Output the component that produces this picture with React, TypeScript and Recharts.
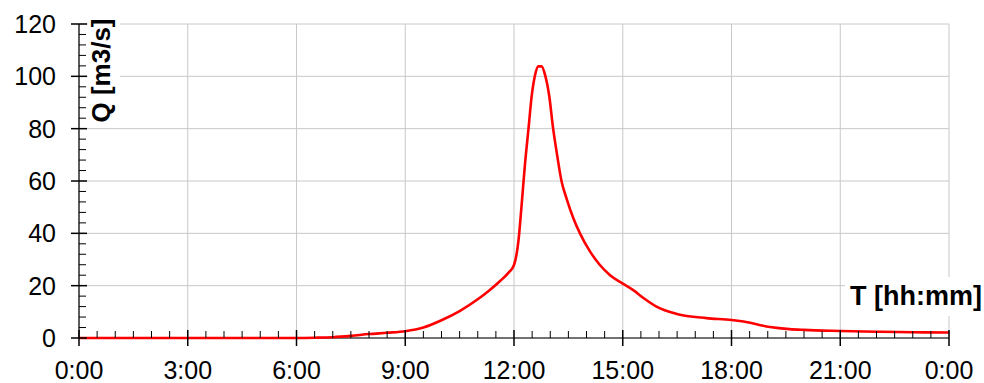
import React from 'react';
import { LineChart, Line, XAxis, YAxis, CartesianGrid, Label } from 'recharts';

// time in hours, flow Q in m3/s
const times = [0, 1, 2, 3, 4, 5, 6, 6.5, 7, 7.5, 8, 8.5, 9, 9.5, 10, 10.5, 11, 11.3, 11.61, 11.85, 12.0, 12.12, 12.21, 12.3, 12.4, 12.49, 12.58, 12.67, 12.76, 12.86, 12.97, 13.08, 13.19, 13.31, 13.45, 13.64, 13.82, 14.1, 14.37, 14.65, 15.0, 15.29, 15.6, 15.93, 16.49, 17.31, 18.0, 18.33, 19.06, 19.6, 20.0, 21.0, 22.0, 23.0, 24.0];
const flows = [0, 0, 0, 0, 0, 0, 0, 0.1, 0.3, 0.8, 1.5, 2.0, 2.6, 4.0, 6.8, 10.3, 14.8, 18.0, 21.7, 25.0, 27.9, 36.8, 50.8, 66, 80, 92.7, 100.4, 103.8, 103.8, 100.4, 92.7, 80, 69.9, 60, 53.3, 45.7, 40, 33, 27.9, 24, 20.8, 18.3, 15, 12, 9.2, 7.6, 6.9, 6.3, 4.2, 3.4, 3.1, 2.7, 2.4, 2.2, 2.1];

const xMajorTicks = [0, 3, 6, 9, 12, 15, 18, 21, 24];
const xTickLabels = ['0:00', '3:00', '6:00', '9:00', '12:00', '15:00', '18:00', '21:00', '0:00'];
const xAllTicks = Array.from({ length: 49 }, (_, i) => i * 0.5);
const yMajorTicks = [0, 20, 40, 60, 80, 100, 120];
const yAllTicks = Array.from({ length: 31 }, (_, i) => i * 4);

const data = times.map((t, i) => ({ t, q: flows[i] }));

const FONT = '"Liberation Sans", Arial, Helvetica, sans-serif';

function XTick(props: any) {
  const { x, y, payload } = props;
  const v = payload.value;
  const idx = xMajorTicks.indexOf(v);
  if (idx >= 0) {
    return (
      <g>
        <line x1={x} x2={x} y1={y - 8} y2={y + 8} stroke="#000" strokeWidth={1.5} />
        <text x={x} y={y + 41} textAnchor="middle" fontSize={25} fontFamily={FONT} fill="#000">
          {xTickLabels[idx]}
        </text>
      </g>
    );
  }
  return <line x1={x} x2={x} y1={y - 7} y2={y} stroke="#000" strokeWidth={1} />;
}

function YTick(props: any) {
  const { x, y, payload } = props;
  const v = payload.value;
  if (yMajorTicks.indexOf(v) >= 0) {
    return (
      <g>
        <line x1={x - 8} x2={x + 8} y1={y} y2={y} stroke="#000" strokeWidth={1.5} />
        <text x={x - 23} y={y + 9} textAnchor="end" fontSize={25} fontFamily={FONT} fill="#000">
          {v}
        </text>
      </g>
    );
  }
  return <line x1={x} x2={x + 7} y1={y} y2={y} stroke="#000" strokeWidth={1} />;
}

const renderYLabel = () => (
  <g>
    <rect x={88} y={14} width={32} height={114} fill="#fff" />
    <text
      x={109.5}
      y={70.5}
      transform="rotate(-90, 109.5, 70.5)"
      textAnchor="middle"
      fontSize={26}
      fontWeight="bold"
      fontFamily={FONT}
      fill="#000"
    >
      Q [m3/s]
    </text>
  </g>
);

const renderXLabel = () => (
  <g>
    <rect x={845} y={277} width={139} height={39} fill="#fff" />
    <text x={982} y={304.5} textAnchor="end" fontSize={27} fontWeight="bold" fontFamily={FONT} fill="#000">
      T [hh:mm]
    </text>
  </g>
);

export default function App() {
  return (
    <div style={{ width: 984, height: 383 }}>
      <style>{'html, body { margin: 0; padding: 0; }'}</style>
      <LineChart
        width={984}
        height={383}
        data={data}
        margin={{ top: 24, right: 35, bottom: 0, left: 0 }}
      >
        <CartesianGrid
          stroke="#c8c8c8"
          strokeWidth={1}
          verticalValues={xMajorTicks}
          horizontalValues={yMajorTicks}
        />
        <XAxis
          dataKey="t"
          type="number"
          domain={[0, 24]}
          ticks={xAllTicks}
          interval={0}
          tickLine={false}
          tickSize={0}
          tickMargin={0}
          height={45}
          axisLine={{ stroke: '#000', strokeWidth: 1.2 }}
          tick={<XTick />}
        >
          <Label content={renderXLabel} />
        </XAxis>
        <YAxis
          type="number"
          domain={[0, 120]}
          ticks={yAllTicks}
          interval={0}
          tickLine={false}
          tickSize={0}
          tickMargin={0}
          width={79}
          axisLine={{ stroke: '#000', strokeWidth: 1.2 }}
          tick={<YTick />}
        >
          <Label content={renderYLabel} />
        </YAxis>
        <Line
          type="monotone"
          dataKey="q"
          stroke="#ff0000"
          strokeWidth={2.6}
          dot={false}
          isAnimationActive={false}
          zIndex={1000}
        />
      </LineChart>
    </div>
  );
}
